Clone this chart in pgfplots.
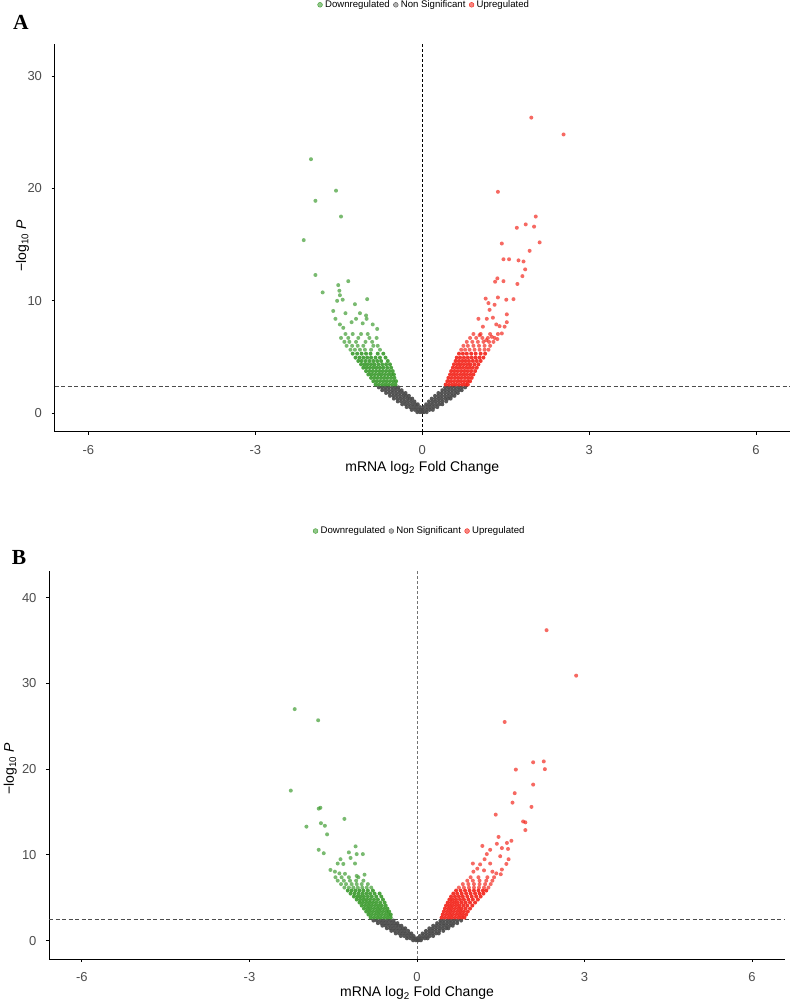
\documentclass[border=0pt]{standalone}
\usepackage{fontspec}
\setmainfont{Liberation Sans}
\newfontfamily\tnr{Liberation Serif}
\usepackage{pgfplots}
\pgfplotsset{compat=1.18}
\definecolor{gr}{HTML}{3A9A2C}
\definecolor{rd}{HTML}{F22218}
\definecolor{gy}{HTML}{4A4A4A}
\definecolor{tk}{HTML}{4D4D4D}
\pgfplotsset{
  volc/.style={
    scale only axis,
    axis lines=left,
    axis line style={-, line width=0.9pt, black},
    tick align=outside,
    major tick length=3pt,
    tick style={black, line width=0.9pt},
    xtick={-6,-3,0,3,6},
    ticklabel style={font=\fontsize{13}{13}\selectfont, text=tk},
    xticklabel style={yshift=-7pt},
    yticklabel style={xshift=-6pt},
    /pgf/number format/assume math mode=true,
    xlabel={mRNA log\textsubscript{2} Fold Change},
    ylabel={−log\textsubscript{10} \textit{P}},
    label style={font=\fontsize{14}{15}\selectfont, text=black},
    legend style={draw=none, fill=none, font=\fontsize{9.6}{10}\selectfont,
      /tikz/every even column/.append style={column sep=2.5pt},
      /tikz/every odd column/.append style={column sep=1.5pt},
      nodes={inner sep=1pt}},
    legend columns=3,
  },
  pts/.style 2 args={only marks, mark=*, mark size=2pt, mark options={fill=#1, draw=#1, fill opacity=#2, draw opacity=0}, forget plot},
}
\begin{document}
\begin{tikzpicture}[x=1pt,y=1pt]
\useasboundingbox (0,0) rectangle (792,1003);
\node[font=\tnr\bfseries\fontsize{21.5}{22}\selectfont] at (21,981) {A};
\node[font=\tnr\bfseries\fontsize{21.5}{22}\selectfont] at (19,446) {B};
% ---------------- Panel A ----------------
\begin{axis}[volc, at={(54.5pt,571.3pt)}, anchor=south west,
  width=735.5pt, height=387.7pt,
  xmin=-6.61, xmax=6.61, ymin=-1.64, ymax=32.85,
  ytick={0,10,20,30},
  xlabel style={at={(axis description cs:0.5,-0.0936)}, anchor=center},
  ylabel style={at={(axis description cs:-0.0435,0.48)}, anchor=center, rotate=0},
  legend style={at={(0.502,1.101)}, anchor=center}]
\addlegendimage{legend image code/.code={\fill[gr, fill opacity=0.55] (0pt,0pt) circle (2.4pt);}}
\addlegendentry{Downregulated}
\addlegendimage{legend image code/.code={\fill[gy, fill opacity=0.42] (0pt,0pt) circle (2.4pt);}}
\addlegendentry{Non Significant}
\addlegendimage{legend image code/.code={\fill[rd, fill opacity=0.55] (0pt,0pt) circle (2.4pt);}}
\addlegendentry{Upregulated}
% non significant
\addplot[pts={gy}{0.92}] coordinates {
(-0.78,2.3)(-0.72,2.3)(-0.66,2.3)(-0.60,2.3)(-0.54,2.3)(-0.48,2.3)(-0.43,2.3)
(-0.72,2.05)(-0.66,2.05)(-0.60,2.05)(-0.54,2.05)(-0.48,2.05)(-0.42,2.05)(-0.37,2.05)
(-0.65,1.8)(-0.59,1.8)(-0.53,1.8)(-0.47,1.8)(-0.41,1.8)(-0.35,1.8)(-0.30,1.8)
(-0.58,1.55)(-0.52,1.55)(-0.46,1.55)(-0.40,1.55)(-0.34,1.55)(-0.29,1.55)(-0.24,1.55)
(-0.51,1.3)(-0.45,1.3)(-0.39,1.3)(-0.33,1.3)(-0.27,1.3)(-0.22,1.3)(-0.18,1.3)
(-0.44,1.05)(-0.38,1.05)(-0.32,1.05)(-0.26,1.05)(-0.20,1.05)(-0.14,1.05)
(-0.36,0.8)(-0.30,0.8)(-0.24,0.8)(-0.18,0.8)(-0.12,0.8)(-0.08,0.8)
(-0.28,0.55)(-0.22,0.55)(-0.16,0.55)(-0.10,0.55)(-0.04,0.55)
(-0.19,0.3)(-0.13,0.3)(-0.07,0.3)(-0.02,0.3)
(-0.09,0.1)(-0.04,0.1)(0,0.1)
(0.41,2.3)(0.47,2.3)(0.53,2.3)(0.59,2.3)(0.65,2.3)(0.71,2.3)(0.77,2.3)
(0.36,2.05)(0.42,2.05)(0.48,2.05)(0.54,2.05)(0.60,2.05)(0.66,2.05)(0.71,2.05)
(0.29,1.8)(0.35,1.8)(0.41,1.8)(0.47,1.8)(0.53,1.8)(0.59,1.8)(0.64,1.8)
(0.23,1.55)(0.29,1.55)(0.35,1.55)(0.41,1.55)(0.47,1.55)(0.53,1.55)(0.58,1.55)
(0.17,1.3)(0.23,1.3)(0.29,1.3)(0.35,1.3)(0.41,1.3)(0.46,1.3)(0.51,1.3)
(0.12,1.05)(0.18,1.05)(0.24,1.05)(0.30,1.05)(0.36,1.05)(0.43,1.05)
(0.07,0.8)(0.13,0.8)(0.19,0.8)(0.25,0.8)(0.31,0.8)(0.36,0.8)
(0.03,0.55)(0.09,0.55)(0.15,0.55)(0.21,0.55)(0.27,0.55)
(0.01,0.3)(0.07,0.3)(0.13,0.3)(0.19,0.3)
(0.03,0.1)(0.08,0.1)
};
% downregulated (dense part)
\addplot[pts={gr}{0.9}] coordinates {
(-0.84,2.55)(-0.78,2.55)(-0.72,2.55)(-0.66,2.55)(-0.60,2.55)(-0.54,2.55)(-0.48,2.55)
(-0.88,2.85)(-0.82,2.85)(-0.76,2.85)(-0.70,2.85)(-0.64,2.85)(-0.58,2.85)(-0.52,2.85)(-0.47,2.85)
(-0.92,3.15)(-0.86,3.15)(-0.80,3.15)(-0.74,3.15)(-0.68,3.15)(-0.62,3.15)(-0.56,3.15)(-0.50,3.15)
(-0.97,3.45)(-0.91,3.45)(-0.85,3.45)(-0.79,3.45)(-0.73,3.45)(-0.67,3.45)(-0.61,3.45)(-0.55,3.45)(-0.51,3.45)
(-1.01,3.75)(-0.95,3.75)(-0.89,3.75)(-0.83,3.75)(-0.77,3.75)(-0.71,3.75)(-0.65,3.75)(-0.59,3.75)(-0.53,3.75)
(-1.06,4.05)(-1.00,4.05)(-0.94,4.05)(-0.88,4.05)(-0.82,4.05)(-0.76,4.05)(-0.70,4.05)(-0.63,4.05)(-0.56,4.05)
(-1.10,4.35)(-1.04,4.35)(-0.98,4.35)(-0.92,4.35)(-0.86,4.35)(-0.79,4.35)(-0.72,4.35)(-0.65,4.35)(-0.58,4.35)
(-1.15,4.65)(-1.09,4.65)(-1.02,4.65)(-0.95,4.65)(-0.88,4.65)(-0.81,4.65)(-0.74,4.65)(-0.62,4.65)
(-1.20,4.95)(-1.13,4.95)(-1.06,4.95)(-0.99,4.95)(-0.92,4.95)(-0.84,4.95)(-0.76,4.95)(-0.66,4.95)
(-1.25,5.3)(-1.17,5.3)(-1.09,5.3)(-1.01,5.3)(-0.93,5.3)(-0.80,5.3)(-0.70,5.3)
};
% downregulated (sparse part)
\addplot[pts={gr}{0.68}] coordinates {
(-1.29,5.65)(-1.21,5.65)(-1.12,5.65)(-1.03,5.65)(-0.92,5.65)(-0.76,5.65)
(-1.36,6.0)(-1.26,6.0)(-1.16,6.0)(-1.06,6.0)(-0.88,6.0)(-0.80,6.0)
(-1.40,6.35)(-1.31,6.35)(-1.19,6.35)(-1.02,6.35)(-0.90,6.35)
(-1.46,6.7)(-1.33,6.7)(-1.15,6.7)(-0.95,6.7)(-0.82,6.7)
(-1.38,7.05)(-1.25,7.05)(-1.10,7.05)(-0.98,7.05)
(-2.00,22.6)(-1.55,19.8)(-1.92,18.9)(-1.46,17.5)(-2.13,15.4)(-1.92,12.3)(-1.33,11.75)
(-1.51,11.4)(-1.79,10.75)(-1.49,10.9)(-1.48,10.5)(-1.53,10.0)(-1.43,10.1)(-0.99,10.15)
(-1.21,9.7)(-1.60,9.1)(-1.12,8.9)(-1.38,8.9)(-1.01,8.7)(-1.56,8.4)(-1.19,8.4)(-1.00,8.4)
(-1.27,8.1)(-1.07,8.0)(-1.48,7.9)(-0.89,7.9)(-0.81,7.5)(-1.42,7.6)
};
% upregulated (dense part)
\addplot[pts={rd}{0.9}] coordinates {
(0.42,2.55)(0.48,2.55)(0.54,2.55)(0.60,2.55)(0.66,2.55)(0.72,2.55)(0.78,2.55)(0.82,2.55)
(0.45,2.85)(0.51,2.85)(0.57,2.85)(0.63,2.85)(0.69,2.85)(0.75,2.85)(0.81,2.85)(0.86,2.85)
(0.47,3.15)(0.53,3.15)(0.59,3.15)(0.65,3.15)(0.71,3.15)(0.77,3.15)(0.83,3.15)(0.89,3.15)
(0.50,3.45)(0.56,3.45)(0.62,3.45)(0.68,3.45)(0.74,3.45)(0.80,3.45)(0.86,3.45)(0.92,3.45)
(0.52,3.75)(0.58,3.75)(0.64,3.75)(0.70,3.75)(0.76,3.75)(0.82,3.75)(0.88,3.75)(0.95,3.75)
(0.55,4.05)(0.61,4.05)(0.67,4.05)(0.73,4.05)(0.79,4.05)(0.85,4.05)(0.91,4.05)(0.98,4.05)
(0.57,4.35)(0.63,4.35)(0.69,4.35)(0.75,4.35)(0.81,4.35)(0.87,4.35)(0.94,4.35)(1.01,4.35)
(0.60,4.65)(0.66,4.65)(0.72,4.65)(0.78,4.65)(0.84,4.65)(0.91,4.65)(0.98,4.65)(1.05,4.65)
(0.62,4.95)(0.68,4.95)(0.75,4.95)(0.82,4.95)(0.89,4.95)(0.96,4.95)(1.03,4.95)(1.10,4.95)
(0.66,5.3)(0.73,5.3)(0.80,5.3)(0.88,5.3)(0.96,5.3)(1.05,5.3)(1.13,5.3)
};
% upregulated (sparse part)
\addplot[pts={rd}{0.68}] coordinates {
(0.70,5.65)(0.77,5.65)(0.85,5.65)(0.94,5.65)(1.03,5.65)(1.12,5.65)(1.19,5.65)
(0.74,6.0)(0.82,6.0)(0.92,6.0)(1.02,6.0)(1.12,6.0)(1.22,6.0)
(0.80,6.35)(0.90,6.35)(1.00,6.35)(1.10,6.35)(1.20,6.35)(1.28,6.35)
(0.86,6.7)(0.97,6.7)(1.08,6.7)(1.18,6.7)(1.30,6.7)
(0.92,7.05)(1.05,7.05)(1.22,7.05)(1.36,7.05)
(1.96,26.3)(2.54,24.8)(1.36,19.7)(2.04,17.5)(1.86,16.8)(1.70,16.5)(2.01,16.6)(1.43,15.1)
(2.11,15.2)(1.93,14.45)(1.46,13.7)(1.56,13.7)(1.73,13.6)(1.82,13.5)(1.85,12.8)(1.80,12.2)
(1.71,11.5)(1.35,12.0)(1.31,11.7)(1.46,11.75)(1.14,10.2)(1.36,10.3)(1.51,10.1)(1.64,10.15)
(1.19,9.8)(1.30,9.65)(1.21,9.2)(1.52,8.8)(1.01,8.4)(1.16,8.4)(1.27,8.5)(1.09,7.7)
(1.33,7.9)(1.39,7.75)(1.48,7.7)(1.52,8.1)(1.43,7.1)(1.03,6.95)(1.15,6.5)(1.25,6.8)(1.35,6.6)
};
\addplot[forget plot, black, line width=0.7pt, dash pattern=on 3pt off 2pt] coordinates {(0,-1.64) (0,32.85)};
\addplot[forget plot, black!70, line width=0.7pt, dash pattern=on 4pt off 2.5pt] coordinates {(-6.61,2.4) (6.61,2.4)};
\end{axis}
% ---------------- Panel B ----------------
\begin{axis}[volc, at={(49pt,44pt)}, anchor=south west,
  width=736pt, height=388pt,
  xmin=-6.59, xmax=6.59, ymin=-2.13, ymax=43.1,
  ytick={0,10,20,30,40},
  xlabel style={at={(axis description cs:0.5,-0.0884)}, anchor=center},
  ylabel style={at={(axis description cs:-0.0525,0.49)}, anchor=center, rotate=0},
  legend style={at={(0.503,1.103)}, anchor=center}]
\addlegendimage{legend image code/.code={\fill[gr, fill opacity=0.55] (0pt,0pt) circle (2.4pt);}}
\addlegendentry{Downregulated}
\addlegendimage{legend image code/.code={\fill[gy, fill opacity=0.42] (0pt,0pt) circle (2.4pt);}}
\addlegendentry{Non Significant}
\addlegendimage{legend image code/.code={\fill[rd, fill opacity=0.55] (0pt,0pt) circle (2.4pt);}}
\addlegendentry{Upregulated}
\addplot[pts={gy}{0.92}] coordinates {
(-0.78,2.35)(-0.72,2.35)(-0.66,2.35)(-0.60,2.35)(-0.54,2.35)(-0.48,2.35)(-0.42,2.35)
(-0.70,2.05)(-0.64,2.05)(-0.58,2.05)(-0.52,2.05)(-0.46,2.05)(-0.40,2.05)(-0.35,2.05)
(-0.62,1.75)(-0.56,1.75)(-0.50,1.75)(-0.44,1.75)(-0.38,1.75)(-0.33,1.75)(-0.28,1.75)
(-0.54,1.45)(-0.48,1.45)(-0.42,1.45)(-0.36,1.45)(-0.30,1.45)(-0.25,1.45)(-0.21,1.45)
(-0.46,1.15)(-0.40,1.15)(-0.34,1.15)(-0.28,1.15)(-0.22,1.15)(-0.16,1.15)
(-0.38,0.85)(-0.32,0.85)(-0.26,0.85)(-0.20,0.85)(-0.14,0.85)(-0.10,0.85)
(-0.29,0.55)(-0.23,0.55)(-0.17,0.55)(-0.11,0.55)(-0.06,0.55)
(-0.18,0.28)(-0.12,0.28)(-0.06,0.28)(-0.02,0.28)
(-0.07,0.05)(-0.02,0.05)(0.01,0.05)
(0.42,2.35)(0.48,2.35)(0.54,2.35)(0.60,2.35)(0.66,2.35)(0.72,2.35)(0.79,2.35)
(0.36,2.05)(0.42,2.05)(0.48,2.05)(0.54,2.05)(0.60,2.05)(0.66,2.05)(0.72,2.05)
(0.29,1.75)(0.35,1.75)(0.41,1.75)(0.47,1.75)(0.53,1.75)(0.59,1.75)(0.64,1.75)
(0.22,1.45)(0.28,1.45)(0.34,1.45)(0.40,1.45)(0.46,1.45)(0.52,1.45)(0.56,1.45)
(0.16,1.15)(0.22,1.15)(0.28,1.15)(0.34,1.15)(0.40,1.15)(0.47,1.15)
(0.10,0.85)(0.16,0.85)(0.22,0.85)(0.28,0.85)(0.34,0.85)(0.39,0.85)
(0.05,0.55)(0.11,0.55)(0.17,0.55)(0.23,0.55)(0.29,0.55)
(0.02,0.28)(0.08,0.28)(0.14,0.28)(0.19,0.28)
(0.03,0.05)(0.07,0.05)
};
\addplot[pts={gr}{0.9}] coordinates {
(-0.83,2.7)(-0.77,2.7)(-0.71,2.7)(-0.65,2.7)(-0.59,2.7)(-0.53,2.7)(-0.47,2.7)
(-0.87,3.05)(-0.81,3.05)(-0.75,3.05)(-0.69,3.05)(-0.63,3.05)(-0.57,3.05)(-0.51,3.05)(-0.47,3.05)
(-0.91,3.4)(-0.85,3.4)(-0.79,3.4)(-0.73,3.4)(-0.67,3.4)(-0.61,3.4)(-0.55,3.4)(-0.50,3.4)
(-0.95,3.75)(-0.89,3.75)(-0.83,3.75)(-0.77,3.75)(-0.71,3.75)(-0.65,3.75)(-0.59,3.75)(-0.53,3.75)
(-0.99,4.1)(-0.93,4.1)(-0.87,4.1)(-0.81,4.1)(-0.75,4.1)(-0.69,4.1)(-0.63,4.1)(-0.56,4.1)
(-1.03,4.45)(-0.97,4.45)(-0.91,4.45)(-0.85,4.45)(-0.79,4.45)(-0.73,4.45)(-0.66,4.45)(-0.58,4.45)
(-1.08,4.8)(-1.02,4.8)(-0.96,4.8)(-0.90,4.8)(-0.84,4.8)(-0.77,4.8)(-0.70,4.8)(-0.61,4.8)
(-1.13,5.15)(-1.07,5.15)(-1.01,5.15)(-0.95,5.15)(-0.88,5.15)(-0.81,5.15)(-0.73,5.15)(-0.64,5.15)
(-1.19,5.5)(-1.12,5.5)(-1.05,5.5)(-0.98,5.5)(-0.91,5.5)(-0.84,5.5)(-0.76,5.5)(-0.67,5.5)
(-1.24,5.85)(-1.17,5.85)(-1.10,5.85)(-1.03,5.85)(-0.96,5.85)(-0.88,5.85)(-0.79,5.85)
};
\addplot[pts={gr}{0.68}] coordinates {
(-1.30,6.2)(-1.22,6.2)(-1.14,6.2)(-1.06,6.2)(-0.98,6.2)(-0.90,6.2)(-0.82,6.2)
(-1.36,6.6)(-1.27,6.6)(-1.17,6.6)(-1.08,6.6)(-0.99,6.6)(-0.88,6.6)
(-1.42,7.0)(-1.31,7.0)(-1.20,7.0)(-1.09,7.0)(-0.96,7.0)
(-1.46,7.4)(-1.35,7.4)(-1.22,7.4)(-1.05,7.4)
(-2.19,27.0)(-1.77,25.7)(-2.26,17.5)(-1.76,15.4)(-1.73,15.5)(-1.30,14.2)(-1.98,13.3)
(-1.72,13.7)(-1.65,13.4)(-1.61,12.4)(-1.76,10.6)(-1.67,10.2)(-1.10,11.0)(-1.22,10.3)
(-1.08,10.1)(-0.97,10.1)(-1.37,9.5)(-1.19,9.65)(-1.42,9.0)(-1.32,8.95)(-1.11,9.0)
(-1.55,8.25)(-1.47,8.05)(-1.39,7.85)(-1.29,7.8)(-1.08,7.55)(-0.94,7.7)
};
\addplot[pts={rd}{0.9}] coordinates {
(0.44,2.7)(0.50,2.7)(0.56,2.7)(0.62,2.7)(0.68,2.7)(0.74,2.7)(0.80,2.7)(0.85,2.7)
(0.46,3.05)(0.52,3.05)(0.58,3.05)(0.64,3.05)(0.70,3.05)(0.76,3.05)(0.82,3.05)(0.88,3.05)
(0.48,3.4)(0.54,3.4)(0.60,3.4)(0.66,3.4)(0.72,3.4)(0.78,3.4)(0.84,3.4)(0.91,3.4)
(0.50,3.75)(0.56,3.75)(0.62,3.75)(0.68,3.75)(0.74,3.75)(0.80,3.75)(0.87,3.75)(0.95,3.75)
(0.52,4.1)(0.58,4.1)(0.64,4.1)(0.70,4.1)(0.76,4.1)(0.83,4.1)(0.90,4.1)(0.99,4.1)
(0.55,4.45)(0.61,4.45)(0.67,4.45)(0.73,4.45)(0.80,4.45)(0.87,4.45)(0.95,4.45)(1.04,4.45)
(0.58,4.8)(0.64,4.8)(0.70,4.8)(0.77,4.8)(0.84,4.8)(0.92,4.8)(1.00,4.8)(1.09,4.8)
(0.61,5.15)(0.68,5.15)(0.75,5.15)(0.82,5.15)(0.90,5.15)(0.98,5.15)(1.06,5.15)(1.14,5.15)
(0.65,5.5)(0.72,5.5)(0.80,5.5)(0.88,5.5)(0.96,5.5)(1.04,5.5)(1.12,5.5)(1.19,5.5)
(0.70,5.85)(0.78,5.85)(0.86,5.85)(0.94,5.85)(1.02,5.85)(1.10,5.85)(1.18,5.85)(1.24,5.85)
};
\addplot[pts={rd}{0.68}] coordinates {
(0.75,6.2)(0.84,6.2)(0.93,6.2)(1.02,6.2)(1.11,6.2)(1.20,6.2)(1.28,6.2)
(0.82,6.6)(0.92,6.6)(1.02,6.6)(1.12,6.6)(1.22,6.6)(1.32,6.6)
(0.90,7.0)(1.00,7.0)(1.12,7.0)(1.24,7.0)(1.35,7.0)
(0.96,7.4)(1.10,7.4)(1.26,7.4)(1.38,7.4)
(2.32,36.2)(2.85,30.9)(1.57,25.5)(2.08,20.8)(2.27,20.9)(2.29,20.0)(1.77,19.95)(2.08,18.2)
(1.75,17.2)(1.71,16.1)(2.05,15.6)(1.41,14.7)(1.90,13.9)(1.94,13.8)(1.94,12.9)(1.46,12.1)
(1.69,11.65)(1.43,11.3)(1.61,11.4)(1.17,11.05)(1.52,10.8)(1.63,10.7)(1.31,10.6)(1.25,10.1)
(1.49,9.85)(1.64,9.5)(1.21,9.5)(1.00,9.0)(1.13,8.9)(1.31,9.0)(1.60,8.95)(1.01,8.05)
(1.52,8.3)(1.35,8.05)(1.42,7.85)(1.50,7.75)(1.08,8.4)(1.20,8.2)
};
\addplot[forget plot, black!55, line width=0.6pt, dash pattern=on 3pt off 2pt] coordinates {(0,-2.13) (0,43.1)};
\addplot[forget plot, black!70, line width=0.7pt, dash pattern=on 4pt off 2.5pt] coordinates {(-6.59,2.5) (6.59,2.5)};
\end{axis}
\end{tikzpicture}
\end{document}
